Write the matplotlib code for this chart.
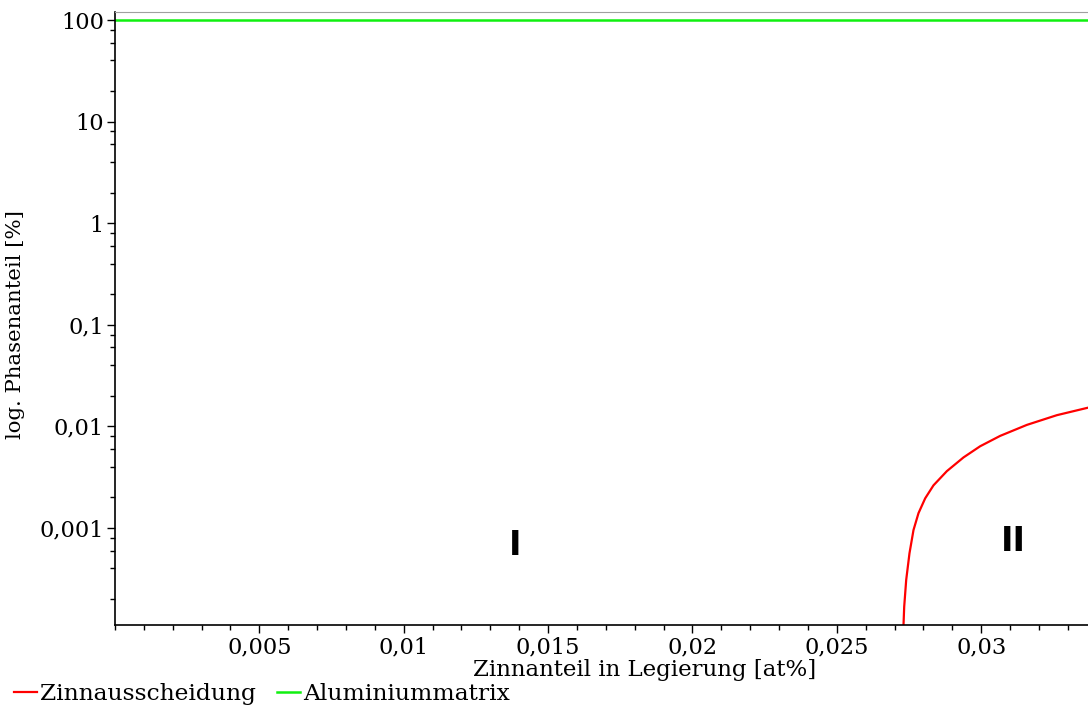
import matplotlib
matplotlib.use("Agg")
import matplotlib.pyplot as plt
from matplotlib.ticker import LogLocator, FixedLocator, MultipleLocator, FuncFormatter

# Werte
zinn_x = [0.027300, 0.027310, 0.027334, 0.027403, 0.027517, 0.027656, 0.027829,
          0.028061, 0.028348, 0.028812, 0.029387, 0.029965, 0.030658, 0.031582,
          0.032621, 0.033705]
zinn_y = [0.000100, 0.000111, 0.000168, 0.000308, 0.000564, 0.000955, 0.00140,
          0.00196, 0.00263, 0.00363, 0.00495, 0.00638, 0.00807, 0.01035,
          0.01290, 0.01530]
alu_x = [0.0, 0.0337]
alu_y = [100, 100]

x_ticks = [0.005, 0.01, 0.015, 0.02, 0.025, 0.03]
y_ticks = [0.001, 0.01, 0.1, 1, 10, 100]


def komma(v, pos=None):
    s = ("%.4f" % v).rstrip("0").rstrip(".")
    return s.replace(".", ",")


plt.rcParams['font.family'] = ['DejaVu Serif']
fs = 16.2

fig = plt.figure(figsize=(10.88, 7.08), dpi=100)
ax = fig.add_axes([115 / 1088, 83 / 708, 1 - 115 / 1088, 613 / 708])

ax.plot(zinn_x, zinn_y, color='#ff0000', lw=1.6, label='Zinnausscheidung')
ax.plot(alu_x, alu_y, color='#10f010', lw=1.8, label='Aluminiummatrix')

ax.set_yscale('log')
ax.set_xlim(0, 0.0337)
ax.set_ylim(1.11e-4, 120)

ax.yaxis.set_major_locator(FixedLocator(y_ticks))
ax.yaxis.set_minor_locator(LogLocator(base=10, subs=[2, 4, 6, 8]))
ax.yaxis.set_major_formatter(FuncFormatter(komma))
ax.yaxis.set_minor_formatter(FuncFormatter(lambda v, p: ""))
ax.xaxis.set_major_locator(FixedLocator(x_ticks))
ax.xaxis.set_minor_locator(MultipleLocator(0.001))
ax.xaxis.set_major_formatter(FuncFormatter(komma))

ax.tick_params(which='major', length=6, width=1, labelsize=fs, pad=2)
ax.tick_params(which='minor', length=3.5, width=1)

ax.spines['right'].set_visible(False)
ax.spines['top'].set_color('#a0a0a0')
ax.spines['left'].set_linewidth(1.2)
ax.spines['bottom'].set_linewidth(1.2)

ax.set_xlabel('Zinnanteil in Legierung [at%]', fontsize=16.5)
ax.xaxis.set_label_coords((645 - 115) / 973, -0.056)
ax.set_ylabel('log. Phasenanteil [%]', fontsize=15.3)
ax.yaxis.set_label_coords(-0.092, 0.49)

ax.text(0.01385, 6.8e-4, 'I', fontsize=24, fontweight='bold', family='DejaVu Sans',
        ha='center', va='center')
ax.text(0.0311, 7.4e-4, 'II', fontsize=24, fontweight='bold', family='DejaVu Sans',
        ha='center', va='center')

fig.legend(loc='lower left', bbox_to_anchor=(0.0, -0.016), ncol=2, frameon=False,
           fontsize=16.8, handlelength=1.0, handletextpad=0.12, columnspacing=0.9,
           borderaxespad=0.2)

fig.savefig('out.png', dpi=100)
